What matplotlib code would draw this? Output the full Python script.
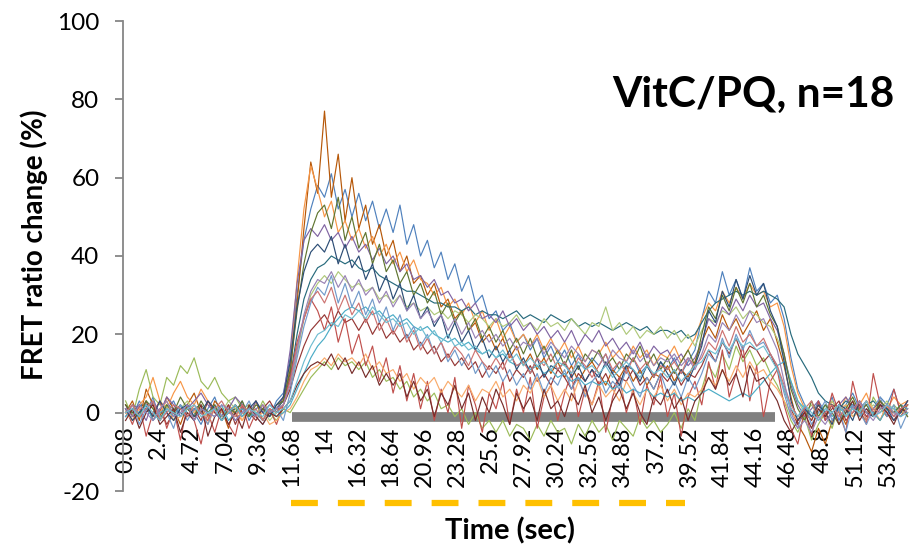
"""
FRET ratio traces, VitC/PQ (n=18) - one line per cell.
"""
import numpy as np
import matplotlib.pyplot as plt

plt.rcParams["font.family"] = ["Lato", "DejaVu Sans"]
plt.rcParams["axes.unicode_minus"] = False

# sample times (sec), one every 0.48 s
TIME = np.round(0.08 + 0.48 * np.arange(115), 2)

TICK_LABELS = ["0.08", "2.4", "4.72", "7.04", "9.36", "11.68", "14", "16.32",
               "18.64", "20.96", "23.28", "25.6", "27.92", "30.24", "32.56",
               "34.88", "37.2", "39.52", "41.84", "44.16", "46.48", "48.8",
               "51.12", "53.44"]

BAR_SPAN = (11.7, 45.5)      # grey bar on the zero line
BAR_LEVEL = -1.2
DASH_SPAN = (11.68, 39.2)    # yellow dashes under the axis
DASH_LEVEL = -23

COLORS = ["#4F81BD", "#B65708", "#F79646", "#9BBB59", "#276A7C", "#AFC97A",
          "#8064A2", "#953735", "#C0504D", "#F9AB6B", "#4BACC6", "#729ACA",
          "#5F7530", "#2C4D75", "#772C2A", "#CD7371", "#9983B5", "#6FBDD1"]

# FRET ratio change (%) per cell; segments: baseline | rise | decay | 2nd peak | recovery
TRACES = [
    "2 -1 3 0 4 -2 1 3 -1 2 0 -3 1 4 -1 2 0 3 -2 1 2 -1 3 5 | 14 30 44 52 58 | "
    "55 61 52 57 50 56 49 54 47 52 46 53 43 48 40 44 37 41 34 38 31 35 28 30 24 "
    "26 21 23 18 20 16 19 14 17 13 16 12 15 11 14 12 15 10 13 11 14 10 12 9 13 11 14 10 13 16 | "
    "24 31 28 36 30 34 29 37 31 33 28 30 24 | 14 6 2 -1 3 0 4 -2 2 5 1 3 -1 4 2 6 0 3",

    "0 3 -2 6 2 -1 4 1 -3 2 5 0 -2 3 1 -4 2 0 -1 3 -2 1 0 4 | 10 28 47 64 56 | "
    "77 55 66 49 60 47 53 43 48 40 44 36 40 33 35 30 33 27 29 24 26 21 23 18 20 "
    "16 19 14 17 12 15 11 14 10 13 9 12 8 11 13 10 7 11 9 12 8 11 7 10 9 12 8 11 9 13 | "
    "18 22 19 25 21 24 20 23 26 21 24 18 12 | 4 -3 -6 -10 -4 -8 -2 1 -3 2 -1 3 0 -2 2 1 -1 2",

    "1 -2 2 4 9 3 1 5 8 4 2 6 3 1 -1 2 0 -2 1 -1 2 0 1 3 | 12 34 52 63 57 | "
    "50 54 46 49 44 47 42 45 40 43 38 41 36 39 34 33 30 32 27 29 25 28 23 26 21 "
    "24 19 22 18 20 17 20 16 19 15 18 14 17 13 16 15 18 14 16 13 17 14 16 12 15 14 17 13 16 19 | "
    "24 28 26 31 28 32 29 33 30 31 27 28 22 | 12 5 1 -2 2 -1 3 0 4 1 2 5 0 3 1 4 2 3",

    "3 -1 6 11 4 2 9 7 12 10 14 8 6 9 5 3 4 1 2 -1 3 0 -2 1 | 0 3 6 9 11 | "
    "13 11 14 12 13 11 13 9 11 8 9 6 8 4 6 3 5 1 2 -1 1 -3 0 -4 -2 "
    "-5 -2 -6 -3 -4 -7 -3 -6 -2 -5 -4 -8 -3 -6 -2 -5 -3 -7 -2 -4 -6 -1 -4 -2 -5 -3 0 -4 1 -2 | "
    "6 12 9 15 11 17 13 16 12 14 10 7 3 | -2 -5 -1 -7 -3 0 -4 2 -1 3 0 -2 4 1 -1 2 0 1",

    "1 0 2 1 -1 0 2 1 0 -1 1 2 0 1 -1 0 1 2 0 -1 1 0 1 3 | 9 20 29 34 37 | "
    "38 40 39 38 39 37 36 37 35 34 33 32 31 31 30 29 28 28 27 27 26 27 25 26 25 "
    "25 24 25 26 24 25 24 23 25 24 23 24 22 23 22 23 22 21 22 23 22 21 22 20 21 21 20 21 19 20 | "
    "23 26 28 29 30 31 30 31 30 31 30 29 27 | 20 15 12 9 5 3 2 1 3 2 1 2 3 1 2 0 1 2",

    "0 2 -1 3 1 0 2 -2 1 3 0 1 -1 2 0 3 1 -1 2 0 1 -2 0 2 | 6 15 24 30 33 | "
    "35 33 36 34 32 33 31 32 29 30 28 30 27 28 26 27 25 26 24 26 25 23 25 24 22 "
    "24 22 23 25 22 23 21 24 22 23 21 24 22 20 23 22 27 21 23 20 22 19 21 20 22 19 21 18 20 17 | "
    "21 24 23 26 25 27 24 26 25 23 22 19 14 | 8 3 0 2 -1 1 3 0 2 -1 1 0 2 1 3 0 1 2",

    "-1 2 1 -2 3 0 4 2 -1 1 3 5 2 0 -2 1 4 2 -1 3 0 2 1 4 | 16 33 44 47 45 | "
    "48 44 46 42 45 41 43 39 42 38 40 36 38 34 35 32 34 30 31 28 29 26 28 24 25 "
    "23 26 22 24 21 23 20 22 19 21 18 21 17 20 18 21 17 19 16 18 15 18 14 17 15 16 13 15 12 14 | "
    "18 24 22 27 25 29 26 30 27 28 24 21 15 | 7 2 -1 1 3 -2 0 2 4 1 -1 3 0 2 1 -1 2 1",

    "2 -1 0 3 -2 1 -3 0 2 -1 1 -2 3 0 -1 2 -3 1 0 -2 1 3 0 2 | 6 12 17 21 23 | "
    "25 22 26 23 24 21 24 20 23 19 21 18 20 16 18 15 17 13 15 12 14 11 13 9 12 "
    "10 13 8 11 9 12 8 10 7 11 9 6 10 8 11 7 10 6 9 8 11 7 9 6 10 8 11 7 10 9 | "
    "12 16 13 18 15 19 14 17 16 13 15 11 6 | 1 -3 0 -2 2 -1 1 3 -2 0 2 -1 1 3 0 -2 1 2",

    "1 -3 2 -6 0 3 -4 1 -7 2 -2 -8 0 -5 1 -3 -6 2 -4 0 -2 1 -3 2 | 9 18 24 29 26 | "
    "21 27 18 24 15 20 12 17 8 14 5 12 3 10 1 8 -2 6 0 9 -4 7 2 -5 5 "
    "1 8 -3 6 0 9 -4 4 7 -2 5 10 -1 6 2 8 -5 4 9 0 6 -3 7 2 9 -1 5 -6 4 8 | "
    "2 13 6 16 4 10 17 3 12 -1 8 11 2 | -4 -8 1 -6 3 -2 5 0 -5 8 1 -3 10 2 -1 6 0 3",

    "0 -2 1 2 -1 0 3 -2 -1 1 0 2 -3 1 -1 0 2 -2 1 -1 0 -3 -2 0 | 1 4 8 11 12 | "
    "14 12 15 13 14 12 15 11 13 10 11 8 10 6 9 7 9 5 8 6 4 7 3 6 5 "
    "8 4 6 3 7 5 9 4 7 3 6 3 8 5 2 7 4 6 3 8 5 2 6 4 7 3 6 2 5 4 | "
    "6 9 7 11 8 12 9 13 10 11 8 6 3 | 0 -2 1 -1 2 0 -3 1 2 -1 0 3 1 -2 2 0 1 -1",

    "-1 1 0 2 -2 0 1 -1 2 0 -2 1 0 -1 2 -2 0 1 -1 0 -2 1 -1 0 | 2 6 10 14 17 | "
    "19 22 24 26 27 26 27 25 26 24 25 23 24 22 21 22 20 19 18 19 17 18 16 15 16 "
    "14 15 13 12 13 11 12 10 11 9 10 8 9 7 8 7 8 6 7 5 6 5 6 4 5 4 5 3 4 3 | "
    "5 6 5 4 3 4 5 4 6 8 10 12 13 | 8 3 1 -1 0 2 -1 1 0 2 -1 1 0 -2 1 0 2 1",

    "0 2 -3 1 3 -1 0 -4 2 -2 1 0 -3 2 -1 1 -2 0 3 -1 -3 0 1 -2 | 5 14 22 28 32 | "
    "30 35 28 33 27 31 25 29 23 27 21 25 19 22 17 20 15 18 13 16 12 15 10 13 9 "
    "12 8 11 7 10 6 10 5 9 7 11 6 9 4 8 10 5 8 6 11 7 4 9 6 10 5 8 4 9 6 | "
    "10 15 13 19 14 20 16 21 17 18 15 12 5 | -1 -4 2 -3 0 3 -2 1 -5 2 0 -3 1 4 -1 2 -4 0",

    "2 0 -1 3 1 -2 2 0 4 1 -1 3 0 2 -2 1 0 3 -1 2 1 -1 2 3 | 11 26 38 46 51 | "
    "53 47 55 44 50 42 46 38 43 36 39 33 36 30 33 28 31 25 28 23 26 21 24 19 22 "
    "18 21 16 19 15 19 14 17 13 16 12 16 11 15 13 16 12 14 11 15 13 17 12 15 11 14 10 13 16 12 | "
    "20 27 24 30 26 32 28 33 27 30 25 22 15 | 6 1 -2 3 -1 2 0 -3 1 4 0 2 -1 3 1 0 2 -1",

    "1 -2 0 2 -1 3 0 -2 1 2 -1 0 3 1 -2 0 2 -1 1 3 0 -1 2 4 | 13 27 36 41 43 | "
    "41 45 38 43 37 40 34 38 31 35 29 33 26 30 24 27 22 25 19 23 18 21 16 19 14 "
    "17 13 16 11 14 10 14 9 12 11 13 9 12 8 11 9 13 10 7 12 11 8 12 9 13 10 7 11 8 12 | "
    "17 26 23 31 27 34 29 35 30 33 26 22 13 | 3 -2 1 -1 2 0 -3 2 1 -2 3 0 -1 2 1 -2 0 3",

    "-2 1 -4 0 2 -3 -1 1 -5 0 -2 2 -6 -1 1 -3 0 -4 2 -1 -3 0 -1 1 | 3 7 10 12 13 | "
    "12 15 11 14 10 13 9 12 7 10 7 10 4 8 3 6 -1 5 2 7 1 5 -2 4 0 "
    "6 2 -3 5 1 4 -2 6 1 3 -1 5 2 7 0 4 -2 3 6 1 5 0 -3 4 2 6 1 4 -2 3 | "
    "5 9 6 11 7 10 4 12 8 9 6 3 -2 | -5 -2 0 -4 1 -1 2 -3 0 3 -2 1 -1 2 0 -3 1 0",

    "0 2 -1 1 3 -2 0 2 1 -1 2 0 -2 1 3 0 -1 2 0 1 -2 1 0 2 | 8 17 24 29 31 | "
    "28 32 26 30 25 28 23 26 21 24 20 23 18 21 16 19 15 18 14 17 15 12 16 13 11 "
    "14 11 15 12 13 10 14 12 15 11 13 10 14 12 9 12 15 11 13 10 14 11 13 9 12 11 13 10 14 12 | "
    "14 18 16 21 17 22 18 20 17 19 15 12 7 | 2 -1 1 3 -2 0 2 -1 1 0 3 -2 1 0 2 -1 1 2",

    "1 -1 2 0 -2 1 3 -1 0 2 -2 1 0 -1 2 1 -2 0 1 -1 2 0 1 2 | 7 16 25 31 34 | "
    "33 36 32 35 31 34 30 32 28 31 27 30 26 28 24 26 23 25 21 24 20 23 19 21 18 "
    "20 17 19 16 18 17 19 15 18 16 14 17 15 13 16 15 12 16 14 13 16 13 15 12 14 13 15 12 14 11 | "
    "15 20 18 23 21 25 22 26 23 24 20 16 8 | 0 -4 -2 -5 -1 -3 0 2 -1 1 3 0 -2 1 2 0 -1 1",

    "0 1 -1 2 0 -2 1 0 -1 1 2 -1 0 1 -2 0 2 -1 1 0 -1 2 0 1 | 3 8 13 17 20 | "
    "21 23 22 25 24 26 24 27 25 23 24 22 23 20 22 19 21 18 20 17 18 16 17 15 16 "
    "14 16 13 15 12 14 12 13 11 13 12 10 13 11 12 10 12 9 11 13 11 9 12 10 11 9 11 8 10 12 | "
    "13 16 15 18 16 19 17 18 16 17 14 11 6 | 1 -1 2 0 -2 1 0 2 -1 1 0 3 -1 0 2 1 -1 0",
]


def parse(s):
    return np.array(s.replace("|", " ").split(), dtype=float)


fig = plt.figure(figsize=(9.09, 5.5), dpi=100)
ax = fig.add_axes([123 / 909, 59 / 550, 786 / 909, 470 / 550])

# grey bar sits under the traces
ax.plot(BAR_SPAN, [BAR_LEVEL, BAR_LEVEL], color="#808080", lw=7,
        solid_capstyle="butt", zorder=1)

for color, s in zip(COLORS, TRACES):
    y = parse(s)
    n = min(len(y), len(TIME))
    ax.plot(TIME[:n], y[:n], color=color, lw=0.85, solid_joinstyle="round", zorder=2)

# yellow dashed marker below the plot
ax.plot(DASH_SPAN, [DASH_LEVEL, DASH_LEVEL], color="#FFC000", lw=4.5,
        dashes=(4.3, 3.2), dash_capstyle="butt", clip_on=False, zorder=3)

ax.set_xlim(-0.1, 54.9)
ax.set_ylim(-20, 100)

for side in ["top", "right"]:
    ax.spines[side].set_visible(False)
ax.spines["bottom"].set_position(("data", 0))
ax.spines["bottom"].set_visible(False)
ax.spines["left"].set_color("#868686")
ax.spines["left"].set_linewidth(1.3)

# ticks set after moving the spine (that resets the tick objects)
ax.set_yticks(np.arange(-20, 101, 20))
ax.set_xticks([float(t) for t in TICK_LABELS])
ax.set_xticklabels(TICK_LABELS)
ax.tick_params(axis="y", length=6, width=1.3, color="#868686", pad=11, labelsize=17.5)
ax.tick_params(axis="x", length=0, pad=10, labelsize=17, labelrotation=90)

ax.text(0.981, 0.843, "VitC/PQ, n=18", transform=ax.transAxes, ha="right",
        va="center", fontsize=30.5, fontweight="bold")
fig.text(510 / 909, 1 - 531 / 550, "Time (sec)", ha="center", va="center",
         fontsize=21, fontweight="bold")
fig.text(34 / 909, 1 - 245 / 550, "FRET ratio change (%)", ha="center", va="center",
         rotation=90, fontsize=20, fontweight="bold")

fig.savefig("out.png", dpi=100)
